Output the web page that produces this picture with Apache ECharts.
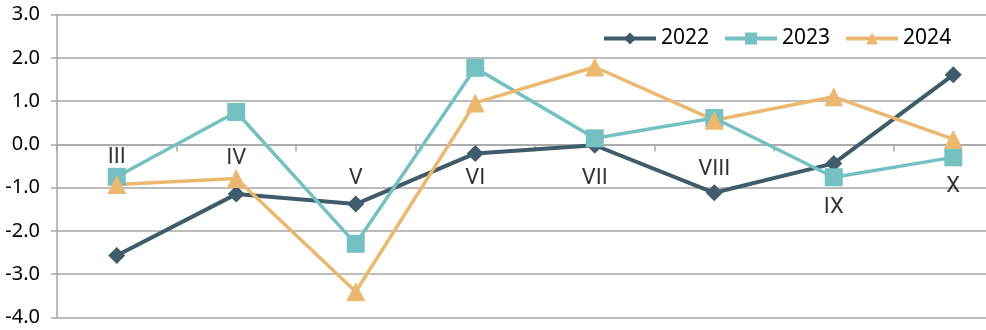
<!DOCTYPE html>
<html>
<head>
<meta charset="utf-8">
<script src="https://cdn.jsdelivr.net/npm/echarts@6/dist/echarts.min.js"></script>
<style>html,body{margin:0;padding:0;background:#fff}#c{width:986px;height:330px}</style>
</head>
<body>
<div id="c"></div>
<script>
var categories = ['III', 'IV', 'V', 'VI', 'VII', 'VIII', 'IX', 'X'];
var s2022 = [-2.57, -1.15, -1.38, -0.21, -0.02, -1.12, -0.44, 1.61];
var s2023 = [-0.75, 0.75, -2.30, 1.77, 0.14, 0.61, -0.76, -0.30];
var s2024 = [-0.93, -0.79, -3.41, 0.96, 1.79, 0.56, 1.10, 0.12];
var labelY = [-0.31, -0.33, -0.78, -0.80, -0.78, -0.59, -1.46, -0.98];

var gray = '#a6a6a6';
var chart = echarts.init(document.getElementById('c'), null, {renderer: 'canvas'});
chart.setOption({
  animation: false,
  textStyle: {fontFamily: 'Roboto'},
  grid: {left: 57, top: 14.7, width: 956, bottom: 12.7, outerBoundsMode: 'none', containLabel: false},
  legend: {
    data: ['2022', '2023', '2024'],
    left: 597, top: 23,
    itemWidth: 52, itemHeight: 15, itemGap: 14,
    lineStyle: {width: 4},
    textStyle: {fontFamily: 'Noto Sans', fontSize: 21, color: '#000'}
  },
  xAxis: {
    type: 'category',
    data: categories,
    boundaryGap: true,
    axisLine: {onZero: true, lineStyle: {color: gray, width: 1.5}},
    axisTick: {show: true, length: 7, lineStyle: {color: gray, width: 1.5}},
    axisLabel: {show: false},
    splitLine: {show: false}
  },
  yAxis: {
    type: 'value',
    min: -4, max: 3, interval: 1,
    axisLine: {show: true, lineStyle: {color: gray, width: 1.5}},
    axisTick: {show: true, length: 6, lineStyle: {color: gray, width: 1.5}},
    axisLabel: {
      margin: 17, color: '#000', fontFamily: 'Noto Sans', fontSize: 20,
      formatter: function (v) { return v.toFixed(1); }
    },
    splitLine: {show: true, lineStyle: {color: gray, width: 1.5}}
  },
  series: [
    {
      name: '2022', type: 'line', data: s2022,
      symbol: 'diamond', symbolSize: 17,
      lineStyle: {color: '#405b69', width: 4},
      itemStyle: {color: '#405b69'}
    },
    {
      name: '2023', type: 'line', data: s2023,
      symbol: 'rect', symbolSize: 18,
      lineStyle: {color: '#75c1c1', width: 3.5},
      itemStyle: {color: '#75c1c1'}
    },
    {
      name: '2024', type: 'line', data: s2024,
      symbol: 'triangle', symbolSize: 19,
      lineStyle: {color: '#ebb86f', width: 3.5},
      itemStyle: {color: '#ebb86f'}
    },
    {
      name: 'labels', type: 'scatter',
      data: labelY.map(function (y, i) { return [i, y]; }),
      symbolSize: 0, silent: true, z: 5,
      itemStyle: {color: 'transparent'},
      label: {
        show: true, position: 'inside',
        color: '#000', fontFamily: 'Roboto', fontSize: 22,
        formatter: function (p) { return categories[p.dataIndex]; }
      }
    }
  ]
});
</script>
</body>
</html>
